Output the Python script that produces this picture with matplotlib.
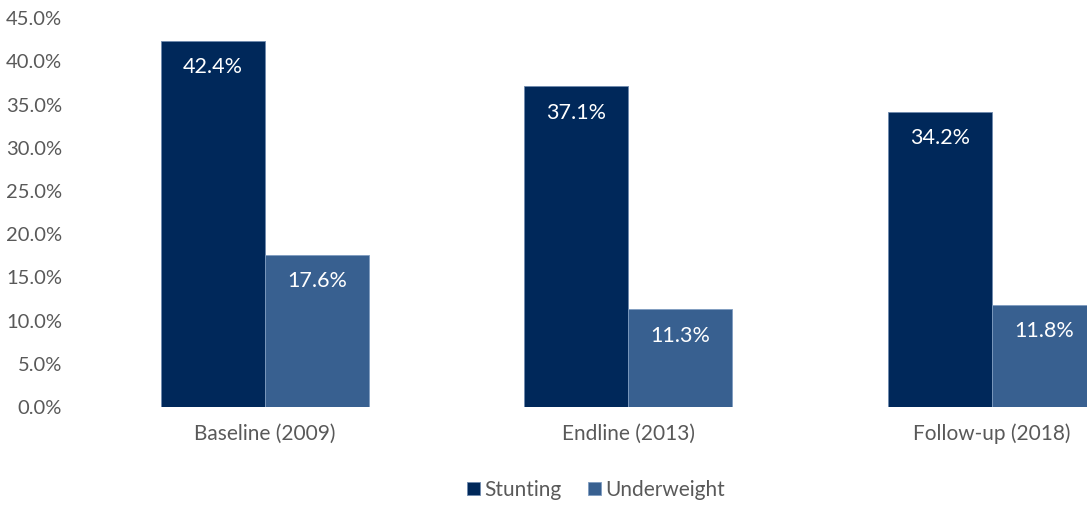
import matplotlib
matplotlib.use('Agg')
import matplotlib.pyplot as plt
import numpy as np

categories = ['Baseline (2009)', 'Endline (2013)', 'Follow-up (2018)']
stunting = [42.4, 37.1, 34.2]
underweight = [17.6, 11.3, 11.8]
series_names = ['Stunting', 'Underweight']
yticks = [0, 5, 10, 15, 20, 25, 30, 35, 40, 45]

dark_blue = '#00285A'
mid_blue = '#386090'
grey = '#595959'

plt.rcParams['font.family'] = ['Lato', 'DejaVu Sans']

fig = plt.figure(figsize=(10.87, 5.05), dpi=100)
ax = fig.add_axes([0.0764, 0.194, 0.9236, 0.770])

x = np.arange(len(categories))
width = 0.286
bars1 = ax.bar(x - width / 2, stunting, width, color=dark_blue,
               edgecolor='#6f8aae', linewidth=0.6, label=series_names[0])
bars2 = ax.bar(x + width / 2, underweight, width, color=mid_blue,
               edgecolor='#7f9cc0', linewidth=0.6, label=series_names[1])

for bars, vals in ((bars1, stunting), (bars2, underweight)):
    for b, v in zip(bars, vals):
        ax.annotate('%.1f%%' % v, (b.get_x() + b.get_width() / 2, v),
                    xytext=(0, -19), textcoords='offset points',
                    ha='center', va='center', color='white', fontsize=15.5)

ax.set_ylim(0, 45)
ax.set_xlim(-0.5, 2 + 95 / 363.5)
ax.set_yticks(yticks)
ax.set_yticklabels(['%.1f%%' % t for t in yticks])
ax.set_xticks(x)
ax.set_xticklabels(categories)
ax.tick_params(axis='both', length=0, colors=grey)
ax.tick_params(axis='x', pad=12, labelsize=15)
ax.tick_params(axis='y', pad=15, labelsize=14.5)
for s in ax.spines.values():
    s.set_visible(False)

fig.legend(handles=[bars1, bars2], labels=series_names, loc='center',
           bbox_to_anchor=(596 / 1087, 0.03), ncol=2, frameon=False,
           fontsize=15, handlelength=0.6, handleheight=0.6,
           handletextpad=0.2, columnspacing=1.3, labelcolor=grey)

fig.savefig('out.png', dpi=100)
